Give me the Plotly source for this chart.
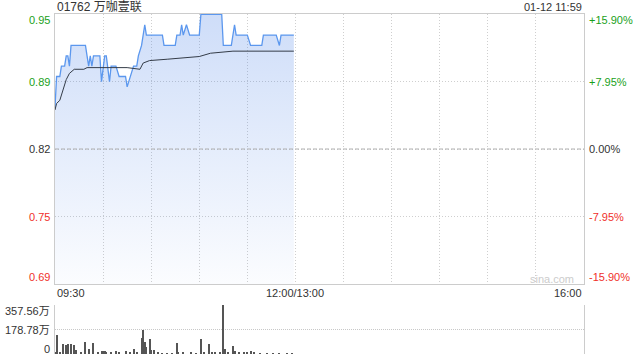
import plotly.graph_objects as go

# ---- data ----
title_text = "01762 万咖壹联"
stamp_text = "01-12 11:59"
prev_close = 0.82
pct_span = 0.159

# price (minutes since 09:30, lunch compressed)
price_min = [0, 1, 3, 4, 6, 7, 8, 9, 10, 19, 20, 21, 22, 23, 24, 28, 29, 31, 32, 34, 35, 38, 40,
             44, 45, 47, 49, 51, 52, 54, 56, 57, 67, 68, 75, 76, 78, 79, 80, 82, 84, 90, 91, 104,
             105, 110, 112, 113, 120, 122, 129, 130, 138, 140, 141, 149]
price_val = [0.86, 0.89, 0.89, 0.90, 0.90, 0.91, 0.91, 0.90, 0.92, 0.92, 0.91, 0.90, 0.91, 0.90,
             0.91, 0.91, 0.885, 0.91, 0.91, 0.885, 0.90, 0.90, 0.89, 0.89, 0.88, 0.89, 0.90, 0.90,
             0.91, 0.92, 0.94, 0.93, 0.93, 0.92, 0.92, 0.93, 0.93, 0.94, 0.93, 0.94, 0.93, 0.93,
             0.95, 0.95, 0.92, 0.92, 0.94, 0.93, 0.93, 0.92, 0.92, 0.93, 0.93, 0.92, 0.93, 0.93]

avg_min = [0, 1, 3, 5, 7, 9, 12, 18, 20, 45, 51, 53, 55, 59, 70, 78, 90, 97, 107, 111, 149]
avg_val = [0.8577, 0.864, 0.867, 0.877, 0.887, 0.893, 0.897, 0.897, 0.8986, 0.8986, 0.897,
           0.897, 0.903, 0.9054, 0.9067, 0.9077, 0.9093, 0.9125, 0.9135, 0.9145, 0.9145]

# volume (万)
vol_min = [0, 1, 3, 5, 7, 8, 10, 12, 13, 16, 19, 21, 24, 27, 29, 30, 31, 32, 35, 38, 40, 44, 47,
           49, 51, 54, 55, 56, 57, 59, 60, 62, 64, 67, 70, 73, 76, 77, 80, 85, 88, 91, 93, 96, 98,
           100, 103, 105, 106, 108, 111, 112, 115, 118, 120, 122, 124, 128, 132, 136, 140, 145, 148]
vol_val = [8, 139, 10, 73, 66, 73, 73, 66, 30, 8, 90, 40, 83, 15, 20, 25, 20, 15, 10, 20, 15, 25,
           15, 40, 8, 119, 175, 90, 50, 109, 30, 30, 8, 6, 5, 6, 83, 15, 8, 8, 6, 109, 10, 70, 10,
           10, 8, 357, 35, 10, 58, 20, 10, 8, 12, 20, 8, 6, 6, 5, 5, 4, 4]
vol_max = 357.56

x_tick_vals = [0, 150, 330]
x_tick_text = ["09:30", "12:00/13:00", "16:00"]

GREEN = "#1a9f1a"
RED = "#f0302a"
DARK = "#333333"
FONT = "Liberation Sans, Arial, Noto Sans CJK SC, sans-serif"

lo = prev_close * (1 - pct_span)
hi = prev_close * (1 + pct_span)
y_levels = [hi, prev_close * (1 + pct_span / 2), prev_close, prev_close * (1 - pct_span / 2), lo]
left_text = [f"{v:.2f}" for v in y_levels]
right_text = ["+15.90%", "+7.95%", "0.00%", "-7.95%", "-15.90%"]
lvl_color = [GREEN, GREEN, DARK, RED, RED]
lvl_shift = [-6, 0, 0, 0, 7]

fig = go.Figure()

fig.add_trace(go.Scatter(
    x=price_min, y=price_val, mode="lines",
    line=dict(color="#5b97ee", width=1.3),
    fill="tozeroy",
    fillgradient=dict(type="vertical",
                      colorscale=[[0, "rgba(60,120,230,0.02)"], [1, "rgba(60,120,230,0.25)"]],
                      start=lo, stop=hi),
    xaxis="x", yaxis="y", hoverinfo="skip"))

fig.add_trace(go.Scatter(
    x=avg_min, y=avg_val, mode="lines",
    line=dict(color="#343c48", width=1),
    xaxis="x", yaxis="y", hoverinfo="skip"))

fig.add_trace(go.Bar(
    x=vol_min, y=vol_val, width=0.6,
    marker=dict(color="#555555", line=dict(width=0)),
    xaxis="x2", yaxis="y2", hoverinfo="skip"))

# middle dashed line at prev close
fig.add_shape(type="line", xref="x", yref="y", x0=0, x1=330, y0=prev_close, y1=prev_close,
              line=dict(color="#b0b0b0", width=1, dash="4px,2px"))

ann = []
for v, lt, rt, c, s in zip(y_levels, left_text, right_text, lvl_color, lvl_shift):
    ann.append(dict(xref="paper", yref="y", x=0, y=v, text=lt, showarrow=False,
                    xanchor="right", yanchor="middle", xshift=-3, yshift=s,
                    font=dict(size=11, color=c, family=FONT)))
    ann.append(dict(xref="paper", yref="y", x=1, y=v, text=rt, showarrow=False,
                    xanchor="left", yanchor="middle", xshift=3, yshift=s,
                    font=dict(size=11, color=c, family=FONT)))

for v, t, a in zip(x_tick_vals, x_tick_text, ["left", "center", "right"]):
    ann.append(dict(xref="x", yref="paper", x=v, y=0.1794, text=t, showarrow=False,
                    xanchor=a, yanchor="middle", font=dict(size=11, color=DARK, family=FONT)))

vol_levels = [vol_max, vol_max / 2, 0]
vol_text = [f"{vol_max:.2f}万", f"{vol_max/2:.2f}万", "0"]
for v, t, s in zip(vol_levels, vol_text, [-6, 0, 5]):
    ann.append(dict(xref="paper", yref="y2", x=0, y=v, text=t, showarrow=False,
                    xanchor="right", yanchor="middle", xshift=-3, yshift=s,
                    font=dict(size=11, color=DARK, family=FONT)))

ann.append(dict(xref="paper", yref="paper", x=0, y=1.0206, text=title_text, showarrow=False,
                xanchor="left", yanchor="middle", font=dict(size=12, color=DARK, family=FONT)))
ann.append(dict(xref="paper", yref="paper", x=1, y=1.0206, text=stamp_text, showarrow=False,
                xanchor="right", yanchor="middle", font=dict(size=11, color=DARK, family=FONT)))
ann.append(dict(xref="paper", yref="paper", x=0.9395, y=0.2206, text="sina.com", showarrow=False,
                xanchor="center", yanchor="middle", font=dict(size=11, color="#cccccc", family=FONT)))

fig.update_layout(
    width=640, height=360,
    margin=dict(l=55, r=56, t=14, b=6),
    paper_bgcolor="white", plot_bgcolor="white",
    showlegend=False, bargap=0,
    annotations=ann,
    xaxis=dict(domain=[0, 1], range=[0, 330], tick0=0, dtick=30, showgrid=True,
               gridcolor="#cfcfcf", griddash="1px,2px", gridwidth=1, showticklabels=False,
               showline=True, mirror=True, linecolor="#cccccc", linewidth=1, zeroline=False,
               ticks="", anchor="y"),
    yaxis=dict(domain=[0.2059, 1], range=[lo, hi], tickvals=y_levels, showgrid=True,
               gridcolor="#cfcfcf", griddash="1px,2px", gridwidth=1, showticklabels=False,
               showline=True, mirror=True, linecolor="#cccccc", linewidth=1, zeroline=False,
               ticks="", anchor="x"),
    xaxis2=dict(domain=[0, 1], range=[0, 330], matches="x", showgrid=False,
                showticklabels=False, showline=False, zeroline=False, ticks="", anchor="y2"),
    yaxis2=dict(domain=[0, 0.1441], range=[0, vol_max], tickvals=vol_levels, showgrid=True,
                gridcolor="#c8c8c8", griddash="1px,1px", gridwidth=1, showticklabels=False,
                showline=True, mirror=True, linecolor="#cccccc", linewidth=1, zeroline=False,
                ticks="", anchor="x2"),
)

fig.write_html("out.html")
